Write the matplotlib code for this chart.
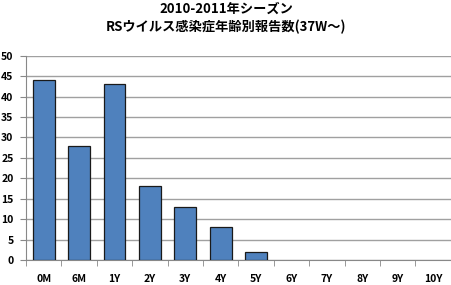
import matplotlib.pyplot as plt
import numpy as np

plt.rcParams['font.family'] = ['Noto Sans CJK JP', 'DejaVu Sans']

# data
categories = ['0M', '6M', '1Y', '2Y', '3Y', '4Y', '5Y', '6Y', '7Y', '8Y', '9Y', '10Y']
counts = [44, 28, 43, 18, 13, 8, 2, 0, 0, 0, 0, 0]
title = '2010-2011年シーズン\nRSウイルス感染症年齢別報告数(37W～)'

fig = plt.figure(figsize=(4.52, 2.85), dpi=100)
ax = fig.add_axes([0.0575, 0.088, 0.94, 0.716])

x = np.arange(len(categories))
heights = np.array(counts, dtype=float)
shown = heights > 0
ax.bar(x[shown], heights[shown], width=0.62, color='#4F81BD', edgecolor='#1a1a1a',
       linewidth=0.9, zorder=3)

ax.set_xlim(-0.5, len(categories) - 0.5)
ax.set_ylim(0, 50)
ax.set_yticks(range(0, 51, 5))
ax.yaxis.grid(True, color='#a0a0a0', linewidth=1.0, zorder=0)

ax.set_xticks(x)
ax.set_xticklabels(categories, fontsize=7.5, fontweight='bold')
ax.set_xticks(np.arange(-0.5, len(categories), 1), minor=True)
ax.tick_params(axis='x', which='major', length=0, pad=10)
ax.tick_params(axis='x', which='minor', length=4, color='#888888', direction='out')
ax.tick_params(axis='y', length=4, color='#888888', labelsize=7.5, pad=5)
for lab in ax.get_yticklabels():
    lab.set_fontweight('bold')

for s in ['top', 'right']:
    ax.spines[s].set_visible(False)
for s in ['left', 'bottom']:
    ax.spines[s].set_color('#888888')

fig.text(0.5, 0.995, title, ha='center', va='top', fontsize=9.5, fontweight='bold',
         linespacing=1.4)

fig.savefig('out.png', dpi=100)
